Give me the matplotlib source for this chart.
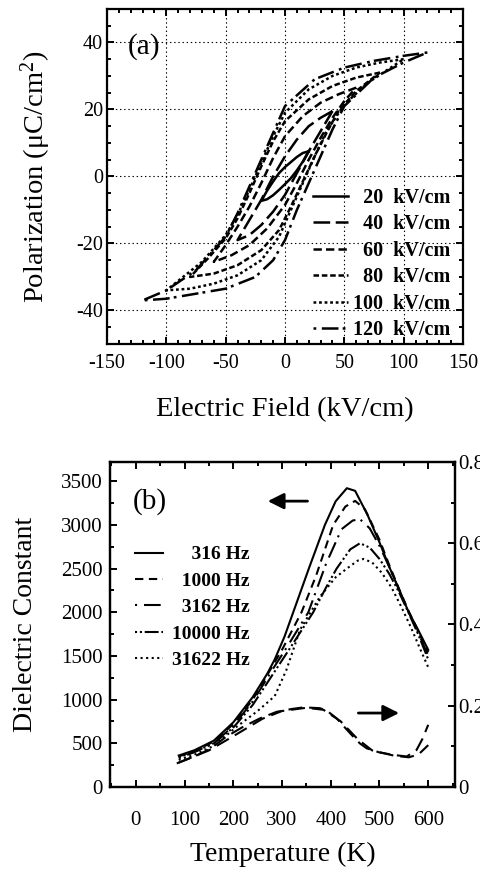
import numpy as np
import matplotlib
matplotlib.use("Agg")
from matplotlib import pyplot as plt
from matplotlib.ticker import MultipleLocator, FuncFormatter

plt.rcParams['font.family'] = ['Liberation Serif', 'DejaVu Serif']
plt.rcParams['mathtext.fontset'] = 'custom'
plt.rcParams['mathtext.rm'] = 'Liberation Serif'
plt.rcParams['mathtext.default'] = 'regular'
plt.rcParams['lines.scale_dashes'] = False

# ---- (a) P-E hysteresis loops: upper branch (field going down) then lower branch (going up)
loop_labels = ["\u200720  kV/cm", "\u200740  kV/cm", "\u200760  kV/cm",
               "\u200780  kV/cm", "100  kV/cm", "120  kV/cm"]

e20 = [20, 15, 10, 5, 0, -5, -10, -15, -20, -15, -10, -5, 0, 5, 10, 15, 20]
p20 = [7.5, 7.0, 5.8, 4.3, 2.8, 1.0, -1.5, -4.2, -7.3, -6.8, -5.6, -4.0, -2.3, -0.5, 1.8, 4.4, 7.5]

e40 = [40, 30, 20, 10, 0, -10, -20, -30, -40, -30, -20, -10, 0, 10, 20, 30, 40]
p40 = [19.5, 17.5, 15.0, 11.0, 6.0, 0.0, -7.0, -13.0, -19.0, -17.5, -14.5, -10.5, -5.5, 1.0, 7.5, 13.5, 19.5]

e60 = [60, 45, 30, 15, 0, -10, -20, -30, -40, -50, -60, -45, -30, -15, 0, 10, 20, 30, 40, 50, 60]
p60 = [26.5, 24.5, 22.0, 18.0, 12.0, 5.5, -2.0, -9.0, -15.0, -20.5, -25.5, -23.5, -20.5, -15.5, -8.5, -2.0, 5.0, 11.5, 17.5, 22.5, 26.5]

e80 = [80, 60, 40, 20, 0, -10, -20, -30, -40, -50, -65, -80, -60, -40, -20, -5, 5, 15, 25, 35, 45, 60, 80]
p80 = [31.0, 29.5, 27.0, 23.0, 16.5, 10.5, 3.0, -5.0, -12.5, -18.5, -24.5, -30.0, -29.0, -26.5, -22.0, -16.0, -9.0, -1.5, 6.0, 13.0, 19.5, 25.5, 31.0]

e100 = [100, 80, 60, 40, 20, 0, -10, -20, -30, -40, -50, -70, -100, -80, -60, -40, -20, -5, 5, 15, 25, 35, 50, 70, 100]
p100 = [35.0, 34.0, 32.5, 30.0, 26.0, 19.0, 12.0, 4.0, -4.0, -11.5, -17.5, -25.5, -34.0, -33.5, -32.0, -29.5, -25.0, -18.0, -10.0, -2.0, 6.0, 13.5, 21.5, 28.0, 35.0]

e120 = [120, 100, 75, 50, 25, 0, -10, -20, -30, -40, -50, -75, -100, -120,
        -100, -75, -50, -25, -10, 0, 10, 20, 30, 40, 50, 75, 100, 120]
p120 = [37.0, 36.0, 34.5, 32.5, 29.0, 21.0, 13.0, 5.0, -3.0, -11.0, -18.0, -28.0, -34.0, -37.0,
        -36.5, -35.0, -33.5, -30.0, -25.0, -19.0, -10.0, -2.0, 6.0, 14.0, 21.0, 29.5, 34.0, 37.0]

loops_e = [e20, e40, e60, e80, e100, e120]
loops_p = [p20, p40, p60, p80, p100, p120]
styles_a = ['-', (0, (12, 4)), (0, (6, 3)), (0, (4, 2)), (0, (2, 2)), (0, (2, 4, 12, 3))]

# ---- (b) dielectric constant vs temperature
freq_labels = ["\u2007\u2007316 Hz", "\u20071000 Hz", "\u20073162 Hz", "10000 Hz", "31622 Hz"]

t316 = [88, 120, 160, 200, 240, 270, 285, 305, 323, 355, 388, 410, 433, 450, 475, 500, 520, 540, 560, 580, 600]
d316 = [360, 420, 530, 740, 1030, 1300, 1460, 1720, 2000, 2500, 3000, 3270, 3420, 3390, 3120, 2800, 2520, 2260, 2000, 1790, 1570]

t1000 = [88, 120, 160, 200, 240, 280, 300, 340, 370, 405, 430, 450, 470, 500, 520, 540, 560, 580, 600]
d1000 = [350, 410, 520, 720, 1000, 1380, 1570, 2000, 2420, 3000, 3210, 3275, 3180, 2830, 2540, 2270, 2010, 1780, 1540]

t3162 = [88, 120, 160, 200, 240, 280, 310, 354, 390, 422, 445, 460, 480, 500, 520, 540, 560, 580, 600]
d3162 = [330, 400, 500, 700, 980, 1340, 1600, 2000, 2550, 2950, 3050, 3065, 2960, 2760, 2520, 2260, 2000, 1760, 1500]

t10000 = [88, 120, 160, 200, 240, 280, 320, 364, 390, 412, 440, 460, 480, 500, 520, 540, 560, 580, 600]
d10000 = [340, 400, 500, 680, 940, 1280, 1620, 2000, 2280, 2500, 2720, 2790, 2740, 2610, 2440, 2230, 1990, 1740, 1460]

t31622 = [88, 120, 160, 207, 250, 285, 309, 337, 378, 410, 433, 455, 467, 485, 505, 525, 545, 565, 585, 600]
d31622 = [310, 370, 470, 690, 870, 1040, 1340, 1800, 2180, 2400, 2500, 2590, 2610, 2570, 2450, 2280, 2060, 1820, 1560, 1370]

temps = [t316, t1000, t3162, t10000, t31622]
diel = [d316, d1000, d3162, d10000, d31622]
styles_b = ['-', (0, (6, 4)), (0, (1.5, 5, 12, 4)), (0, (1.5, 2, 1.5, 2, 10, 2)), (0, (1.5, 2.5))]

# loss tangent (right axis), two runs
t_loss1 = [84, 120, 150, 186, 220, 255, 289, 320, 344, 378, 395, 412, 430, 446, 460, 474, 500, 528, 556, 576, 588, 600]
loss1 = [0.058, 0.075, 0.092, 0.124, 0.148, 0.169, 0.185, 0.192, 0.196, 0.194, 0.185, 0.169, 0.145, 0.124, 0.107, 0.095, 0.085, 0.079, 0.075, 0.091, 0.118, 0.153]
t_loss2 = [88, 150, 200, 260, 300, 350, 385, 420, 455, 485, 530, 560, 580, 600]
loss2 = [0.060, 0.090, 0.125, 0.168, 0.187, 0.195, 0.190, 0.162, 0.118, 0.090, 0.077, 0.073, 0.080, 0.103]

fig = plt.figure(figsize=(4.81, 8.75), dpi=100)

# ================= panel (a)
ax1 = fig.add_axes([0.2225, 0.6069, 0.740, 0.3829])
for e, p, ls, lab in zip(loops_e, loops_p, styles_a, loop_labels):
    ax1.plot(e, p, color='k', lw=1.8, linestyle=ls, label=lab)

ax1.set_xlim(-150, 150)
ax1.set_ylim(-50, 50)
ax1.xaxis.set_major_locator(MultipleLocator(50))
ax1.xaxis.set_minor_locator(MultipleLocator(10))
ax1.yaxis.set_minor_locator(MultipleLocator(5))
ax1.set_yticks([-40, -20, 0, 20, 40])
ax1.grid(True, which='major', color='k', lw=0.8, linestyle=(0, (1, 2)))
ax1.set_axisbelow(True)
ax1.tick_params(which='both', direction='in', top=True, right=True, width=1.4, labelsize=14.5)
ax1.tick_params(which='major', length=5)
ax1.tick_params(which='minor', length=3)
ax1.tick_params(axis='x', pad=7)
ax1.tick_params(axis='y', pad=3)
for s in ax1.spines.values():
    s.set_linewidth(1.6)
ax1.xaxis.set_major_formatter(FuncFormatter(lambda v, pos: f"{v:g}"))
ax1.yaxis.set_major_formatter(FuncFormatter(lambda v, pos: f"{v:g}"))

ax1.set_xlabel("Electric Field (kV/cm)", fontsize=20.5)
ax1.set_ylabel("Polarization (\u03bcC/cm$^2$)", fontsize=20.5)
ax1.xaxis.set_label_coords(0.5, -0.158)
ax1.yaxis.set_label_coords(-0.152, 0.5)
ax1.text(0.059, 0.928, "(a)", transform=ax1.transAxes, fontsize=21, va='top', ha='left')

ax1.legend(loc='upper left', bbox_to_anchor=(0.579, 0.4657), frameon=False,
           prop={'weight': 'bold', 'size': 14.5}, handlelength=1.75, handletextpad=0.22,
           labelspacing=0.32, borderpad=0, borderaxespad=0)

# ================= panel (b)
ax2 = fig.add_axes([0.2287, 0.1006, 0.7173, 0.3714])
for t, d, ls, lab in zip(temps, diel, styles_b, freq_labels):
    ax2.plot(t, d, color='k', lw=1.5, linestyle=ls, label=lab)

ax2.set_xlim(-53, 655)
ax2.set_ylim(0, 3720)
ax2.xaxis.set_major_locator(MultipleLocator(100))
ax2.xaxis.set_minor_locator(MultipleLocator(50))
ax2.yaxis.set_major_locator(MultipleLocator(500))
ax2.yaxis.set_minor_locator(MultipleLocator(250))
ax2.tick_params(which='both', direction='in', top=True, right=False, width=1.4, labelsize=15)
ax2.tick_params(which='major', length=5)
ax2.tick_params(which='minor', length=3)
ax2.tick_params(axis='x', pad=17)
ax2.tick_params(axis='y', pad=5)
for s in ax2.spines.values():
    s.set_linewidth(1.6)
ax2.set_xlabel("Temperature (K)", fontsize=20)
ax2.set_ylabel("Dielectric Constant", fontsize=20)
ax2.xaxis.set_label_coords(0.5, -0.17)
ax2.yaxis.set_label_coords(-0.208, 0.5)
ax2.text(0.067, 0.92, "(b)", transform=ax2.transAxes, fontsize=21, va='top', ha='left')

ax2.legend(loc='upper left', bbox_to_anchor=(0.0725, 0.742), frameon=False,
           prop={'weight': 'bold', 'size': 14}, handlelength=1.45, handletextpad=0.45,
           labelspacing=0.45, borderpad=0, borderaxespad=0)

ax2.annotate("", xy=(265, 3272), xytext=(358, 3272),
             arrowprops=dict(arrowstyle='-|>', color='k', lw=2, mutation_scale=24))

ax3 = ax2.twinx()
ax3.plot(t_loss1, loss1, color='k', lw=1.5, linestyle=(0, (10, 5)))
ax3.plot(t_loss2, loss2, color='k', lw=1.5, linestyle=(0, (10, 5)))
ax3.set_ylim(0, 0.8)
ax3.yaxis.set_major_locator(MultipleLocator(0.2))
ax3.yaxis.set_minor_locator(MultipleLocator(0.1))
ax3.yaxis.set_major_formatter(FuncFormatter(lambda v, pos: "0" if abs(v) < 1e-9 else f"{v:.1f}"))
ax3.tick_params(which='both', direction='in', width=1.4, labelsize=15, pad=2)
ax3.tick_params(which='major', length=5)
ax3.tick_params(which='minor', length=3)
for s in ax3.spines.values():
    s.set_linewidth(1.6)
ax3.annotate("", xy=(546, 0.182), xytext=(451, 0.182),
             arrowprops=dict(arrowstyle='-|>', color='k', lw=2, mutation_scale=24))

fig.savefig("out.png", dpi=100)
